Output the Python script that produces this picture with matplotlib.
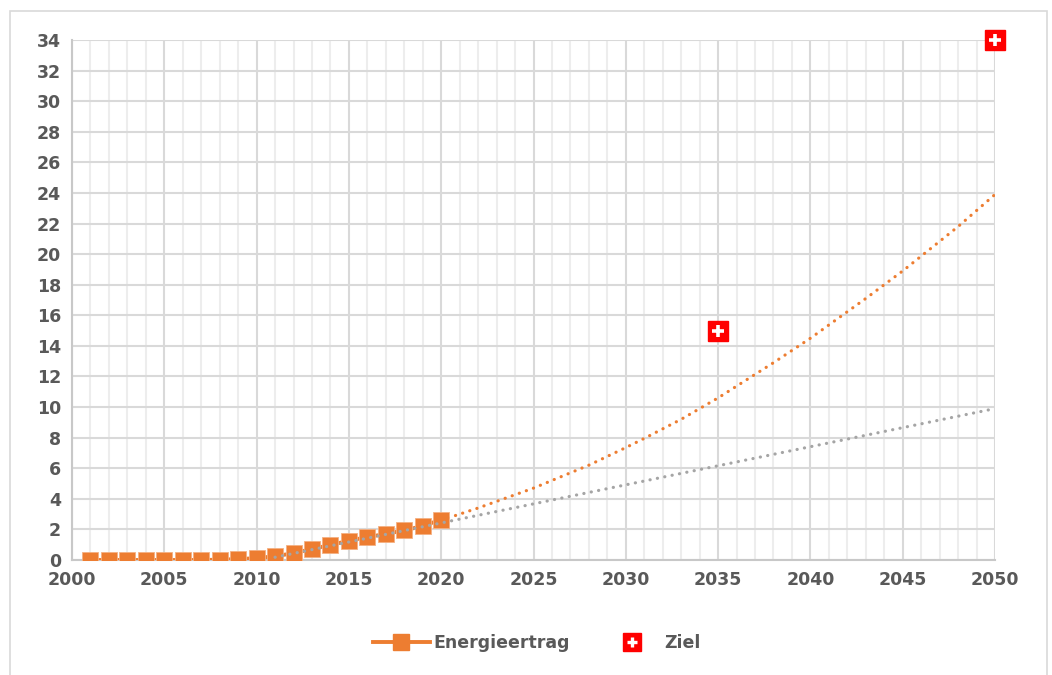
import matplotlib.pyplot as plt
from matplotlib.legend_handler import HandlerTuple
from matplotlib.lines import Line2D
from matplotlib.patches import Rectangle
from matplotlib.ticker import MultipleLocator

# data
years = [2001, 2002, 2003, 2004, 2005, 2006, 2007, 2008, 2009, 2010,
         2011, 2012, 2013, 2014, 2015, 2016, 2017, 2018, 2019, 2020]
ertrag = [0.0, 0.0, 0.0, 0.0, 0.0, 0.0, 0.0, 0.02, 0.06, 0.12,
          0.25, 0.44, 0.72, 0.98, 1.26, 1.5, 1.7, 1.94, 2.22, 2.64]

# trend lines as drawn in the reference (read points)
poly_years = [2020, 2022, 2025, 2028, 2030, 2031, 2033, 2035, 2038, 2040, 2043, 2045, 2048, 2050]
poly_vals = [2.6, 3.4, 4.7, 6.2, 7.35, 7.95, 9.2, 10.6, 12.9, 14.5, 17.1, 18.9, 21.8, 23.9]
lin_years = [2011, 2050]
lin_vals = [0.18, 9.9]

ziel_years = [2035, 2050]
ziel_vals = [15, 34]

ORANGE = "#ED7D31"
GREY_TXT = "#595959"

plt.rcParams["font.family"] = ["DejaVu Sans"]
plt.rcParams["font.weight"] = "bold"

fig = plt.figure(figsize=(10.52, 6.75), dpi=100)
ax = fig.add_axes([72 / 1052, 1 - 560 / 675, (995 - 72) / 1052, (560 - 40) / 675])

# outer frame of the chart area
fig.patches.append(Rectangle((10 / 1052, -0.05), 1037 / 1052, 1.05 - 11 / 675,
                             transform=fig.transFigure, fill=False,
                             edgecolor="#D9D9D9", linewidth=1.2))

ax.set_xlim(2000, 2050)
ax.set_ylim(0, 34)
ax.xaxis.set_major_locator(MultipleLocator(5))
ax.xaxis.set_minor_locator(MultipleLocator(1))
ax.yaxis.set_major_locator(MultipleLocator(2))

ax.grid(which="minor", axis="x", color="#EDEDED", linewidth=1.5)
ax.grid(which="major", axis="x", color="#D9D9D9", linewidth=1.5)
ax.grid(which="major", axis="y", color="#D9D9D9", linewidth=1.5)
ax.set_axisbelow(True)

for side in ["top", "right"]:
    ax.spines[side].set_visible(False)
for side in ["left", "bottom"]:
    ax.spines[side].set_color("#C8C8C8")
    ax.spines[side].set_linewidth(1.5)

ax.tick_params(which="both", length=0, labelsize=12.5, labelcolor=GREY_TXT)
ax.tick_params(axis="y", pad=8)
ax.tick_params(axis="x", pad=8)
for lab in ax.get_xticklabels() + ax.get_yticklabels():
    lab.set_fontweight("bold")

dots = (0, (0.05, 2.3))
ax.plot(poly_years, poly_vals, color=ORANGE, linewidth=2.3, linestyle=dots,
        dash_capstyle="round", zorder=3)
ax.plot(years, ertrag, color=ORANGE, linewidth=2.8, marker="s", markersize=11.5,
        markeredgecolor="#F4B183", markeredgewidth=0.6, zorder=4)
ax.plot(lin_years, lin_vals, color="#A5A5A5", linewidth=2.3, linestyle=dots,
        dash_capstyle="round", zorder=5)

ax.plot(ziel_years, ziel_vals, linestyle="none", marker="s", markersize=14,
        color="#FF0000", zorder=6, clip_on=False)
ax.plot(ziel_years, ziel_vals, linestyle="none", marker="+", markersize=8.5,
        markeredgewidth=2.6, color="white", zorder=7, clip_on=False)

h_ertrag = Line2D([], [], color=ORANGE, linewidth=2.8, marker="s", markersize=12)
h_box = Line2D([], [], linestyle="none", marker="s", markersize=12.5, color="#FF0000")
h_plus = Line2D([], [], linestyle="none", marker="+", markersize=7.5,
                markeredgewidth=2.4, color="white")
leg = fig.legend([h_ertrag, (h_box, h_plus)], ["Energieertrag", "Ziel"],
                 loc="center", bbox_to_anchor=(0.51, 1 - 643 / 675), ncol=2,
                 frameon=False, handlelength=3.3, handletextpad=0.2,
                 columnspacing=1.9, prop={"weight": "bold", "size": 12.5},
                 handler_map={tuple: HandlerTuple(ndivide=1)})
for t in leg.get_texts():
    t.set_color(GREY_TXT)

fig.savefig("out.png", dpi=100)
